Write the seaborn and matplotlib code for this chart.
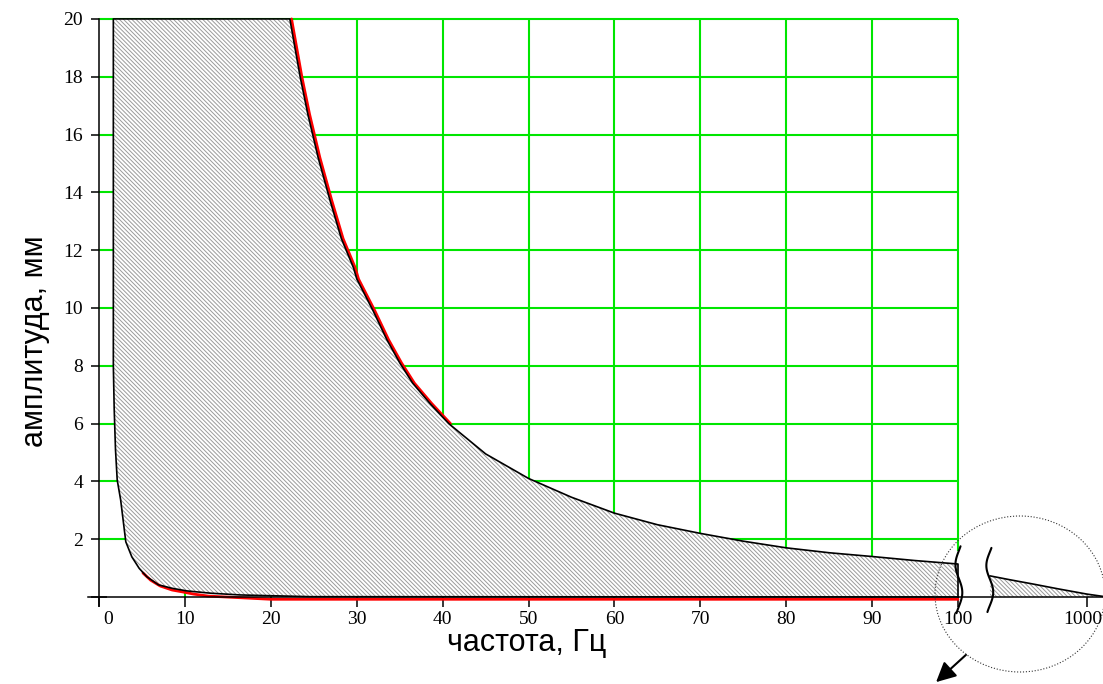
import numpy as np
import matplotlib
matplotlib.use("Agg")
import matplotlib.pyplot as plt
import seaborn as sns
from matplotlib.patches import Ellipse
from matplotlib.transforms import IdentityTransform, ScaledTranslation

# zone outline (Hz, mm): bottom -> lower curve -> left edge -> top -> right curve
zone_freq = [100, 24.6, 16.4, 13.0, 10.2, 8.5, 6.9, 5.55, 4.66, 3.8, 3.1, 2.5, 2.1, 1.9, 1.75, 1.65, 1.65,
             22.2, 23.4, 24.3, 25.5, 26.9, 28.2, 29.6, 30.0, 31.9, 33.5, 35.0, 36.5, 38.5, 40.7,
             45, 50, 55, 60, 65, 70, 75, 80, 85, 90, 95, 100, 100]
zone_amp = [0, 0.01, 0.07, 0.13, 0.21, 0.30, 0.42, 0.70, 0.99, 1.39, 1.91, 3.36, 4.05, 5.1, 6.5, 8.0, 20,
            20, 18, 16.7, 15.2, 13.7, 12.4, 11.4, 11.0, 9.9, 8.9, 8.1, 7.4, 6.7, 6.0,
            4.95, 4.1, 3.45, 2.9, 2.5, 2.2, 1.93, 1.7, 1.53, 1.4, 1.26, 1.14, 0]

# red reference curves
red_top_freq = [22.4, 23.6, 24.5, 25.7, 27.1, 28.4, 29.8, 30.2, 32.1, 33.7, 35.2, 36.7, 38.7, 40.9]
red_top_amp = [20, 18, 16.7, 15.2, 13.7, 12.4, 11.4, 11.0, 9.9, 8.9, 8.1, 7.4, 6.7, 6.0]
red_bot_freq = [5.1, 6.0, 7.1, 8.5, 9.8, 11.0, 12.7, 16.7, 20, 100]
red_bot_amp = [0.83, 0.58, 0.38, 0.24, 0.17, 0.10, 0.03, -0.03, -0.08, -0.08]

# tail beyond the break (Hz, mm)
tail_freq = [177, 250, 380, 600, 1000, 1335]
tail_amp = [0.73, 0.60, 0.45, 0.28, 0.10, 0.02]

x_ticks = [0, 10, 20, 30, 40, 50, 60, 70, 80, 90, 100, 1000]
y_ticks = [0, 2, 4, 6, 8, 10, 12, 14, 16, 18, 20]


def fwd(f):
    f = np.asarray(f, dtype=float)
    return np.where(f <= 100, f, 100 + 15 * np.log10(np.maximum(f, 100) / 100))


def inv(p):
    p = np.asarray(p, dtype=float)
    return np.where(p <= 100, p, 100 * 10 ** ((np.clip(p, 100, 200) - 100) / 15))


sns.set_style("ticks")
plt.rcParams["font.family"] = ["Liberation Serif", "DejaVu Serif"]
plt.rcParams["hatch.linewidth"] = 0.7
plt.rcParams["text.color"] = "black"
plt.rcParams["axes.labelcolor"] = "black"

fig = plt.figure(figsize=(11.03, 6.84), dpi=100)
ax = fig.add_axes([88 / 1103, 72 / 684, 1015 / 1103, 600 / 684])
ax.set_xscale("function", functions=(fwd, inv))
ax.set_xlim(-1.3, 1335)
ax.set_ylim(-0.52, 20.24)

green = "#00e600"
ax.hlines(y_ticks[1:], 0, 100, color=green, lw=1.5, zorder=1)
ax.vlines(x_ticks[1:10], 0, 20, color=green, lw=1.5, zorder=1)
ax.vlines(100, 1.6, 20, color=green, lw=1.5, zorder=1)

hatch = "\\" * 8
ax.fill(zone_freq, zone_amp, facecolor="white", edgecolor="#9a9a9a", hatch=hatch, lw=0, zorder=2)
ax.fill_between(tail_freq, tail_amp, 0, facecolor="white", edgecolor="#9a9a9a", hatch=hatch, lw=0, zorder=2)

sns.lineplot(x=red_top_freq, y=red_top_amp, sort=False, estimator=None, color="red", lw=2, ax=ax, zorder=3)
sns.lineplot(x=red_bot_freq, y=red_bot_amp, sort=False, estimator=None, color="red", lw=2, ax=ax, zorder=3)
sns.lineplot(x=zone_freq, y=zone_amp, sort=False, estimator=None, color="black", lw=1.2, ax=ax, zorder=4)
sns.lineplot(x=tail_freq, y=tail_amp, sort=False, estimator=None, color="black", lw=1.2, ax=ax, zorder=4)


# axis break marks
def break_mark(pos, top, bottom, amp=0.4):
    t = np.linspace(-0.08, 1.12, 60)
    xs = inv(pos - amp * np.sin(2 * np.pi * t))
    ys = top - t * (top - bottom)
    ax.plot(xs, ys, color="black", lw=1.5, zorder=5, clip_on=False)


break_mark(100.1, 1.6, -0.33)
break_mark(103.7, 1.55, -0.30)

for side in ["top", "right"]:
    ax.spines[side].set_visible(False)
ax.spines["left"].set_position(("data", 0))
ax.spines["bottom"].set_position(("data", 0))
ax.spines["left"].set_bounds(-0.3, 20)
for side in ["left", "bottom"]:
    ax.spines[side].set_color("black")
    ax.spines[side].set_linewidth(1.1)
    ax.spines[side].set_zorder(4.5)

ax.set_xticks(x_ticks)
ax.set_xticklabels([str(v) for v in x_ticks])
ax.set_yticks(y_ticks)
ax.set_yticklabels([""] + [str(v) for v in y_ticks[1:]])
ax.tick_params(axis="y", direction="inout", length=11, width=1.1, pad=6, labelsize=14,
               color="black", labelcolor="black")
ax.tick_params(axis="x", direction="out", length=7, width=1.1, pad=3, labelsize=14,
               color="black", labelcolor="black")
xlabels = ax.get_xticklabels()
xlabels[0].set_transform(xlabels[0].get_transform() + ScaledTranslation(9 / 100, 0, fig.dpi_scale_trans))
xlabels[-1].set_transform(xlabels[-1].get_transform() + ScaledTranslation(-4 / 100, 0, fig.dpi_scale_trans))

ax.set_xlabel("частота, Гц", family="Liberation Sans", fontsize=22)
ax.set_ylabel("амплитуда, мм", family="Liberation Sans", fontsize=22)
ax.xaxis.label.set(va="center", ha="center")
ax.yaxis.label.set(va="center", ha="center")
ax.xaxis.set_label_coords((527 - 88) / 1015, (612 - 643) / 600)
ax.yaxis.set_label_coords((35 - 88) / 1015, (612 - 341) / 600)

# zoom circle and arrow
fig.add_artist(Ellipse((1020, 684 - 594), 170, 156, transform=IdentityTransform(),
                       fill=False, ls=":", lw=0.8, edgecolor="#333333"))
ax.annotate("", xy=(934, 0), xycoords="figure pixels", xytext=(968, 31), textcoords="figure pixels",
            arrowprops=dict(arrowstyle="-|>", color="black", lw=1.5, mutation_scale=30))

fig.savefig("out.png", dpi=100)
